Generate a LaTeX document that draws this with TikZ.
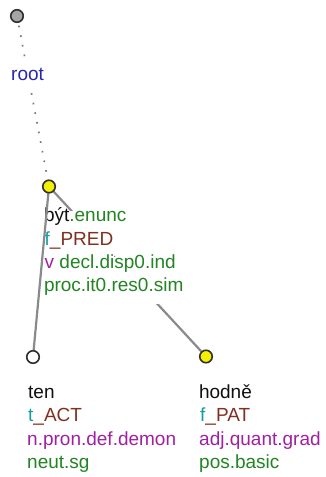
\documentclass[tikz,border=0pt]{standalone}
\usepackage{fontspec}
\setmainfont{Liberation Sans}
\pgfdeclarelayer{edgelayer}
\pgfdeclarelayer{labellayer}
\pgfdeclarelayer{frontedge}
\pgfsetlayers{edgelayer,labellayer,frontedge,main}
\definecolor{cblue}{RGB}{40,40,170}
\definecolor{cgreen}{RGB}{34,132,34}
\definecolor{cteal}{RGB}{20,155,155}
\definecolor{cbrown}{RGB}{128,48,32}
\definecolor{cmag}{RGB}{160,32,160}
\definecolor{cblack}{RGB}{16,16,16}
\definecolor{cedge}{RGB}{138,138,138}
\definecolor{cborder}{RGB}{48,48,48}
\definecolor{cyel}{RGB}{245,240,0}
\definecolor{croot}{RGB}{165,165,165}
\tikzset{
  treenode/.style={circle,draw=cborder,line width=1.6pt,minimum size=12.5pt,inner sep=0pt},
  lab/.style={anchor=base west,fill=white,inner xsep=0.5pt,inner ysep=2.2pt,
    text height=14pt,text depth=5pt,
    font=\fontsize{19}{23.3}\selectfont,text=cblack},
  blab/.style={lab,text height=9pt,text depth=10pt},
  edgeline/.style={draw=cedge,line width=2.2pt},
  rootline/.style={draw=cedge!90!black,line width=1.7pt,dash pattern=on 1.7pt off 8.1pt}
}
\begin{document}
\begin{tikzpicture}[x=1pt,y=-1pt]
\useasboundingbox (0,0) rectangle (325,477);
% nodes
\node[treenode,fill=croot] (root) at (17,16) {};
\node[treenode,fill=cyel] (byt) at (49,186.5) {};
\node[treenode,fill=white] (ten) at (33,357) {};
\node[treenode,fill=cyel] (hodne) at (206,356.5) {};
% labels
\begin{pgfonlayer}{labellayer}
\node[lab,text=cblue] (lroot) at (10.5,80) {root};
\node[blab] (b1) at (43.3,221.7) {být\textcolor{cgreen}{.enunc}};
\node[blab] (b2) at (44,245) {\textcolor{cteal}{f}\textcolor{cbrown}{\_PRED}};
\node[blab] (b3) at (44,268.3) {\textcolor{cmag}{v} \textcolor{cgreen}{decl.disp0.ind}};
\node[blab] (b4) at (43.3,291.6) {\textcolor{cgreen}{proc.it0.res0.sim}};
\node[lab] (t1) at (27.5,398.3) {ten};
\node[lab] (t2) at (27.5,421.7) {\textcolor{cteal}{t}\textcolor{cbrown}{\_ACT}};
\node[lab] (t3) at (26.5,445) {\textcolor{cmag}{n.pron.def.demon}};
\node[lab] (t4) at (26.5,468.3) {\textcolor{cgreen}{neut.sg}};
\node[lab] (h1) at (198.3,398.3) {hodně};
\node[lab] (h2) at (199.5,421.7) {\textcolor{cteal}{f}\textcolor{cbrown}{\_PAT}};
\node[lab] (h3) at (198.5,445) {\textcolor{cmag}{adj.quant.grad}};
\node[lab] (h4) at (198.5,468.3) {\textcolor{cgreen}{pos.basic}};
\end{pgfonlayer}
% edges
\begin{pgfonlayer}{edgelayer}
\draw[rootline] (root.center) -- (byt.center);
\draw[edgeline] (byt.center) -- (hodne.center);
\end{pgfonlayer}
\begin{pgfonlayer}{frontedge}
\draw[edgeline] (byt.center) -- (ten.center);
\end{pgfonlayer}
\end{tikzpicture}
\end{document}
